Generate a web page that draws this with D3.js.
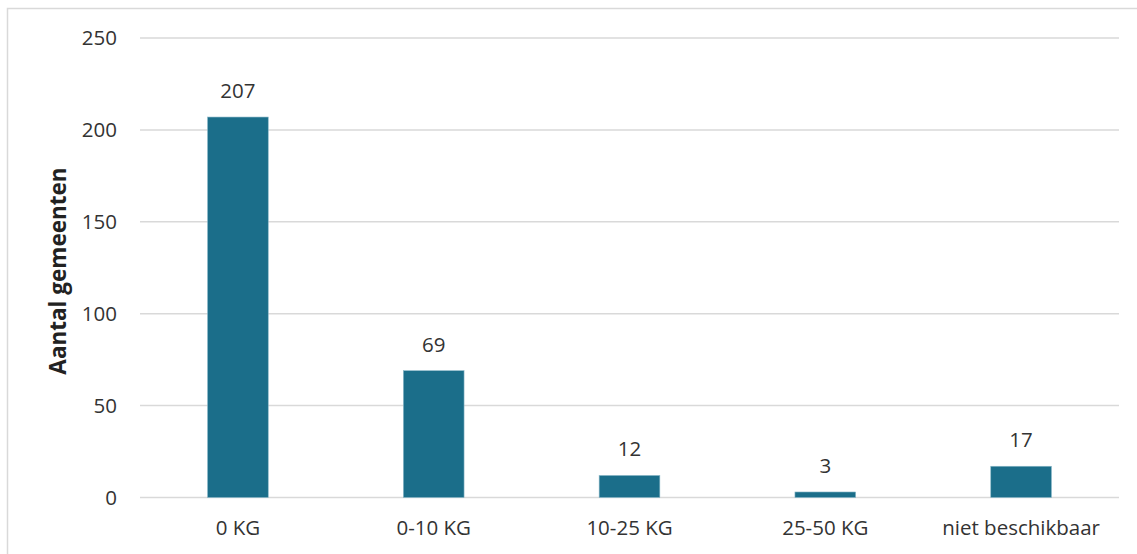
<!DOCTYPE html>
<html>
<head>
<meta charset="utf-8">
<script src="https://cdn.jsdelivr.net/npm/d3@7"></script>
<style>
  html, body { margin: 0; padding: 0; background: #fff; }
  svg { display: block; font-family: "Open Sans", Lato, sans-serif; }
</style>
</head>
<body>
<svg id="chart" width="1137" height="554"></svg>
<script>
// Number of municipalities per category
const categories = ["0 KG", "0-10 KG", "10-25 KG", "25-50 KG", "niet beschikbaar"];
const values = [207, 69, 12, 3, 17];
const yTicks = [0, 50, 100, 150, 200, 250];
const yTitle = "Aantal gemeenten";

const svg = d3.select("#chart");
const W = 1137, H = 554;
const plot = { left: 140, right: 1119, top: 38, bottom: 497.5 };
const font = "'Open Sans', Lato, sans-serif";
const fs = 20.5;

// outer chart frame
svg.append("rect")
  .attr("x", 7.5).attr("y", 8.5)
  .attr("width", W + 10).attr("height", H + 10)
  .attr("fill", "#fff").attr("stroke", "#d9d9d9").attr("stroke-width", 1.5);

const x = d3.scaleBand()
  .domain(categories)
  .range([plot.left, plot.right])
  .paddingInner(0.69).paddingOuter(0.345);

const y = d3.scaleLinear().domain([0, 250]).range([plot.bottom, plot.top]);

// horizontal gridlines
svg.append("g")
  .selectAll("line")
  .data(yTicks)
  .join("line")
  .attr("x1", plot.left).attr("x2", plot.right)
  .attr("y1", d => y(d)).attr("y2", d => y(d))
  .attr("stroke", "#d9d9d9").attr("stroke-width", 1.5);

// y tick labels
const yAxis = d3.axisLeft(y).tickValues(yTicks).tickSize(0).tickPadding(0);
const gy = svg.append("g").attr("transform", `translate(117,0)`).call(yAxis);
gy.select(".domain").remove();
gy.selectAll("text")
  .attr("font-family", font)
  .attr("font-size", fs).attr("fill", "#333");

// bars
svg.append("g")
  .selectAll("rect")
  .data(values)
  .join("rect")
  .attr("x", (d, i) => x(categories[i]))
  .attr("width", x.bandwidth())
  .attr("y", d => y(d))
  .attr("height", d => y(0) - y(d))
  .attr("fill", "#1b6e8a")
  .attr("stroke", "#8ab8c8").attr("stroke-width", 0.6);

// value labels
svg.append("g")
  .selectAll("text")
  .data(values)
  .join("text")
  .attr("x", (d, i) => x(categories[i]) + x.bandwidth() / 2)
  .attr("y", d => y(d) - 19)
  .attr("text-anchor", "middle")
  .attr("font-family", font)
  .attr("font-size", fs).attr("fill", "#333")
  .text(d => d);

// category axis labels
const xAxis = d3.axisBottom(x).tickSize(0).tickPadding(0);
const gx = svg.append("g").attr("transform", `translate(0,${plot.bottom + 37})`).call(xAxis);
gx.select(".domain").remove();
gx.selectAll("text")
  .attr("font-family", font)
  .attr("font-size", fs).attr("fill", "#333")
  .attr("dy", "0");

// y axis title
svg.append("text")
  .attr("transform", `translate(66,271) rotate(-90)`)
  .attr("text-anchor", "middle")
  .attr("font-family", font)
  .attr("font-size", 22.5).attr("font-weight", "bold").attr("fill", "#222")
  .text(yTitle);
</script>
</body>
</html>
